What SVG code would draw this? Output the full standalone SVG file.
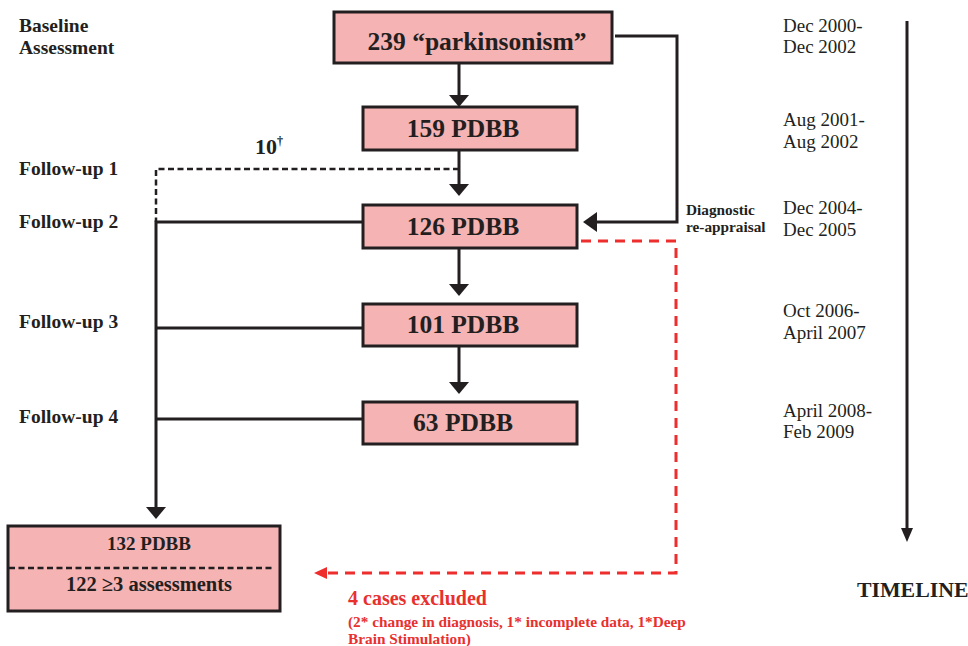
<svg xmlns="http://www.w3.org/2000/svg" width="968" height="646" viewBox="0 0 968 646">
<style>
.box{fill:#f6b3b3;stroke:#231f20;stroke-width:3}
.lbl{font-family:"Liberation Serif","Times New Roman",serif;font-weight:bold;fill:#231f20}
.date{font-family:"Liberation Serif","Times New Roman",serif;font-size:19px;fill:#231f20}
.ln{fill:none;stroke:#231f20;stroke-width:3}
.dash{fill:none;stroke:#231f20;stroke-width:2.5;stroke-dasharray:6 3.5}
.rdash{fill:none;stroke:#ee2d2d;stroke-width:3;stroke-dasharray:10 7}
.red{font-family:"Liberation Serif","Times New Roman",serif;font-weight:bold;fill:#e8302e}
</style>
<rect width="968" height="646" fill="#ffffff"/>

<g id="connectors">
<path class="ln" d="M459,63 V95" /><path d="M449,95 L469,95 L459,107 Z" fill="#231f20"/>
<path class="ln" d="M459,150 V184" /><path d="M449,184 L469,184 L459,196 Z" fill="#231f20"/>
<path class="dash" d="M459,169 H156 V222"/>
<path class="ln" d="M459,248 V284" /><path d="M449,284 L469,284 L459,296 Z" fill="#231f20"/>
<path class="ln" d="M459,346 V382" /><path d="M449,382 L469,382 L459,394 Z" fill="#231f20"/>
<path class="ln" d="M615,36 H677 V222 H597" /><path d="M597,212 L597,232 L583,222 Z" fill="#231f20"/>
<path class="ln" d="M363,222 H156 V507"/><path d="M146,507 L166,507 L156,519 Z" fill="#231f20"/>
<path class="ln" d="M363,328 H156"/>
<path class="ln" d="M363,419 H156"/>
<path class="rdash" d="M581,241 H676 V573 H327"/><path d="M327,567 L327,579 L314,573 Z" fill="#ee2d2d"/>
<path class="ln" d="M907,21 V528"/><path d="M901,528 L913,528 L907,542 Z" fill="#231f20"/>
</g>

<g id="n239"><rect class="box" x="334" y="12" width="278" height="51"/><text class="lbl" x="477" y="50" font-size="25.5" text-anchor="middle">239 “parkinsonism”</text></g>
<g id="n159"><rect class="box" x="363" y="107" width="214" height="43"/><text class="lbl" x="463" y="137" font-size="25.5" text-anchor="middle">159 PDBB</text></g>
<g id="n126"><rect class="box" x="363" y="205" width="214" height="43"/><text class="lbl" x="463" y="235" font-size="25.5" text-anchor="middle">126 PDBB</text></g>
<g id="n101"><rect class="box" x="363" y="304" width="214" height="42"/><text class="lbl" x="463" y="333" font-size="25.5" text-anchor="middle">101 PDBB</text></g>
<g id="n63"><rect class="box" x="363" y="402" width="214" height="42"/><text class="lbl" x="463" y="431" font-size="25.5" text-anchor="middle">63 PDBB</text></g>
<g id="n132"><rect class="box" x="8" y="526" width="272" height="85"/>
<path class="dash" d="M9,568 H274"/>
<text class="lbl" x="149" y="550" font-size="19" text-anchor="middle">132 PDBB</text>
<text class="lbl" x="149" y="591" font-size="20.5" text-anchor="middle">122 ≥3 assessments</text></g>

<g id="left-labels">
<text class="lbl" x="19" y="32" font-size="19.5">Baseline</text>
<text class="lbl" x="19" y="54" font-size="19.5">Assessment</text>
<text class="lbl" x="19" y="175" font-size="19.5">Follow-up 1</text>
<text class="lbl" x="19" y="228" font-size="19.5">Follow-up 2</text>
<text class="lbl" x="19" y="328" font-size="19.5">Follow-up 3</text>
<text class="lbl" x="19" y="423" font-size="19.5">Follow-up 4</text>
<text class="lbl" x="255" y="154" font-size="22">10<tspan font-size="12" dy="-9">†</tspan></text>
</g>

<g id="reappraisal">
<text class="lbl" x="686" y="215" font-size="15.3">Diagnostic</text>
<text class="lbl" x="686" y="232" font-size="15.3">re-appraisal</text>
</g>

<g id="dates">
<text class="date" x="783" y="32">Dec 2000-</text><text class="date" x="783" y="53">Dec 2002</text>
<text class="date" x="783" y="126">Aug 2001-</text><text class="date" x="783" y="148">Aug 2002</text>
<text class="date" x="783" y="214">Dec 2004-</text><text class="date" x="783" y="236">Dec 2005</text>
<text class="date" x="783" y="317">Oct 2006-</text><text class="date" x="783" y="339">April 2007</text>
<text class="date" x="783" y="417">April 2008-</text><text class="date" x="783" y="438">Feb 2009</text>
</g>

<g id="timeline"><text class="lbl" x="857" y="597" font-size="21.8">TIMELINE</text></g>

<g id="excluded">
<text class="red" x="348" y="605" font-size="20">4 cases excluded</text>
<text class="red" x="348" y="627" font-size="15.3"> (2* change in diagnosis, 1* incomplete data, 1*Deep</text>
<text class="red" x="348" y="644" font-size="15.3">Brain Stimulation)</text>
</g>
</svg>
